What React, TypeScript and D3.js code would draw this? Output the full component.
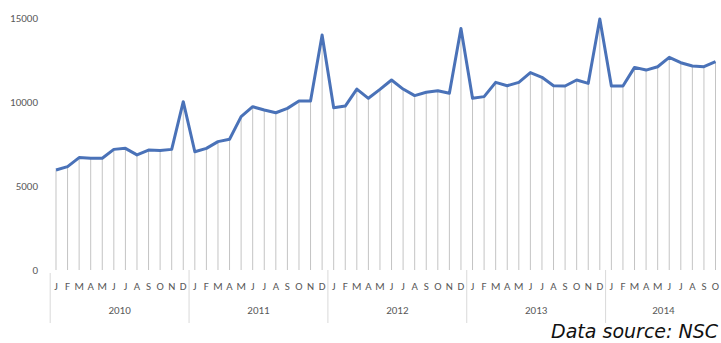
import React from "react";
import * as d3 from "d3";

const years = ["2010", "2011", "2012", "2013", "2014"];
const monthLetters = ["J", "F", "M", "A", "M", "J", "J", "A", "S", "O", "N", "D"];
const values2010 = [5950, 6150, 6690, 6650, 6650, 7180, 7240, 6850, 7140, 7120, 7180, 10020];
const values2011 = [7040, 7240, 7640, 7780, 9130, 9720, 9520, 9360, 9620, 10060, 10060, 13990];
const values2012 = [9660, 9760, 10770, 10220, 10750, 11310, 10770, 10380, 10580, 10670, 10520, 14380];
const values2013 = [10220, 10320, 11170, 10970, 11170, 11750, 11470, 10970, 10950, 11310, 11110, 14940];
const values2014 = [10950, 10950, 12060, 11900, 12100, 12660, 12340, 12140, 12100, 12400];
const yTicks = [0, 5000, 10000, 15000];
const sourceText = "Data source: NSC";

type Pt = { i: number; year: string; month: string; value: number };

const seriesByYear = [values2010, values2011, values2012, values2013, values2014];
const data: Pt[] = [];
seriesByYear.forEach((vals, yi) => {
  vals.forEach((v, mi) => {
    data.push({ i: data.length, year: years[yi], month: monthLetters[mi], value: v });
  });
});

export default function App() {
  const W = 721;
  const H = 343;
  const x = d3
    .scaleBand<number>()
    .domain(data.map((d) => d.i))
    .range([50.2, 721.3]);
  const y = d3.scaleLinear().domain([0, 15000]).range([270, 18]);
  const cx = (i: number) => (x(i) as number) + x.bandwidth() / 2;

  const line = d3
    .line<Pt>()
    .x((d) => cx(d.i))
    .y((d) => y(d.value));

  const yearGroups = years.map((yr) => {
    const pts = data.filter((d) => d.year === yr);
    const start = x(pts[0].i) as number;
    const end = (x(pts[pts.length - 1].i) as number) + x.bandwidth();
    return { yr, start, end };
  });

  const labelColor = "#595959";

  return (
    <svg
      width={W}
      height={H}
      style={{ position: "absolute", left: 0, top: 0, background: "#fff" }}
      fontFamily="Calibri, 'Open Sans', 'DejaVu Sans', sans-serif"
    >
      {data.map((d) => (
        <line
          key={"drop" + d.i}
          x1={cx(d.i)}
          x2={cx(d.i)}
          y1={y(d.value)}
          y2={y(0)}
          stroke="#c4c4c4"
          strokeWidth={1}
        />
      ))}
      {yTicks.map((t) => (
        <text
          key={"yt" + t}
          x={38}
          y={y(t)}
          dy="0.35em"
          textAnchor="end"
          fontSize={11}
          fill={labelColor}
        >
          {t}
        </text>
      ))}
      <path
        d={line(data) || ""}
        fill="none"
        stroke="#4a72b8"
        strokeWidth={3}
        strokeLinejoin="round"
      />
      {data.map((d) => (
        <text
          key={"m" + d.i}
          x={cx(d.i)}
          y={290}
          textAnchor="middle"
          fontSize={11}
          fill={labelColor}
        >
          {d.month}
        </text>
      ))}
      {yearGroups.map((g, k) => (
        <line
          key={"sep" + g.yr}
          x1={g.start}
          x2={g.start}
          y1={k === 0 ? 273 : 270}
          y2={323}
          stroke="#d9d9d9"
          strokeWidth={1}
        />
      ))}
      {yearGroups.map((g) => (
        <text
          key={"yl" + g.yr}
          x={(g.start + g.end) / 2}
          y={314}
          textAnchor="middle"
          fontSize={11}
          fill={labelColor}
        >
          {g.yr}
        </text>
      ))}
      <text
        x={718}
        y={338}
        textAnchor="end"
        fontSize={19}
        fontStyle="italic"
        fontFamily="'DejaVu Sans', Verdana, sans-serif"
        fill="#111"
      >
        {sourceText}
      </text>
    </svg>
  );
}
